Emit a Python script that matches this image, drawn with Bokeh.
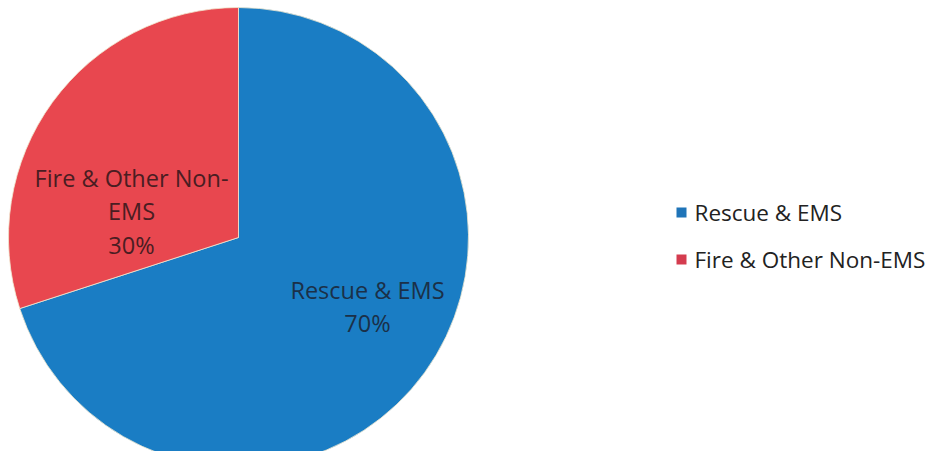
import math
from bokeh.plotting import figure
from bokeh.models import Range1d, ColumnDataSource
from bokeh.core.properties import value
from bokeh.embed import file_html
from bokeh.resources import INLINE

categories = ["Rescue & EMS", "Fire & Other Non-EMS"]
shares = [70, 30]
slice_labels = ["Rescue & EMS\n70%", "Fire & Other Non-\nEMS\n30%"]
slice_colors = ["#1a7dc4", "#e8474f"]
legend_colors = ["#1f74b8", "#d43c4f"]
label_colors = ["#1b3048", "#4a1d22"]

W, H = 931, 451
p = figure(width=W, height=H, output_backend="svg", toolbar_location=None,
           x_range=Range1d(0, W), y_range=Range1d(0, H), min_border=0)
p.axis.visible = False
p.grid.visible = False
p.outline_line_color = None
p.background_fill_color = "white"

cx, cy, r = 238, H - 237, 230
total = sum(shares)
starts, ends = [], []
a = 90.0
for s in shares:
    sweep = 360.0 * s / total
    # clockwise from 12 o'clock
    starts.append(math.radians(a - sweep))
    ends.append(math.radians(a))
    a -= sweep
src = ColumnDataSource(dict(start=starts, end=ends, color=slice_colors))
p.wedge(x=cx, y=cy, radius=r, start_angle="start", end_angle="end",
        fill_color="color", line_color="#f0e8d0", line_width=0.8, source=src)

# slice labels
label_x = [367, 131]
label_y = [H - 306, H - 211]
p.text(x=label_x, y=label_y, text=slice_labels, text_color=label_colors,
       text_font=value("Open Sans"), text_font_size="23.5px", text_align="center",
       text_baseline="middle", text_line_height=1.04)

# legend
lx = 681
ly = [H - 212, H - 259]
p.scatter(x=[lx] * 2, y=ly, marker="square", size=10, fill_color=legend_colors,
          line_color=None)
p.text(x=[lx + 13] * 2, y=ly, text=categories, text_color="#222222",
       text_font=value("Open Sans"), text_font_size="22.5px", text_baseline="middle")

open("out.html", "w").write(file_html(p, INLINE))
